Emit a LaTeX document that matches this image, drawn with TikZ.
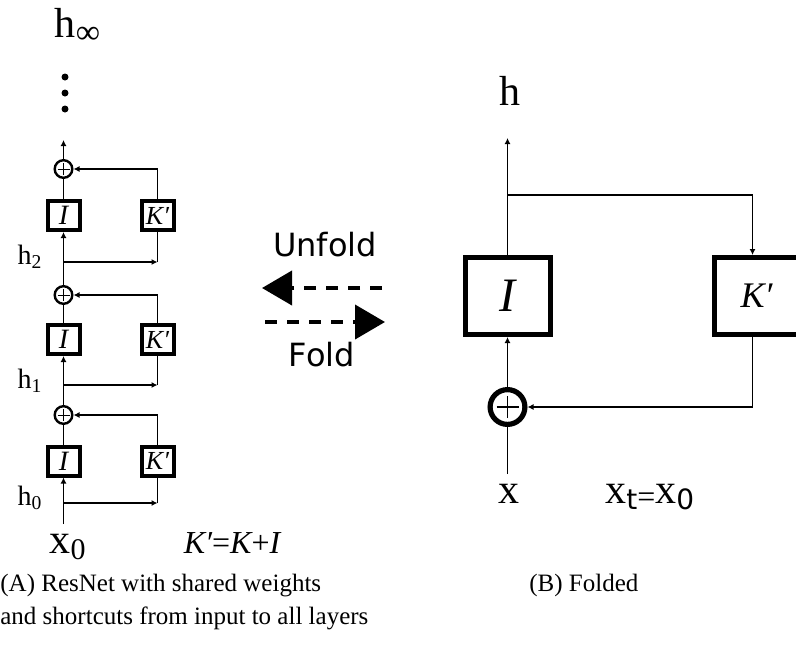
\documentclass[tikz,border=0pt]{standalone}
\usepackage{fontspec}
\setmainfont{Liberation Serif}
\newfontfamily\dejavu{DejaVu Sans}
\usetikzlibrary{arrows.meta}
\newcommand\sizept[1]{\fontsize{#1}{#1}\selectfont}

\begin{document}
\begin{tikzpicture}[x=0.5pt, y=-0.5pt,
    every node/.style={inner sep=0pt},
    smallbox/.style={draw, line width=2pt, minimum width=16pt, minimum height=14.5pt, font=\sizept{14}\itshape},
    bigbox/.style={draw, line width=2.5pt, minimum width=42.5pt, minimum height=38.5pt},
    smallsum/.style={draw, circle, line width=1.2pt, minimum size=8.8pt,
      path picture={\draw[line width=0.5pt]
        ([xshift=-3pt]path picture bounding box.center) -- ([xshift=3pt]path picture bounding box.center)
        ([yshift=-3pt]path picture bounding box.center) -- ([yshift=3pt]path picture bounding box.center);}},
    bigsum/.style={draw, circle, line width=2.6pt, minimum size=17.4pt,
      path picture={\draw[line width=0.8pt]
        ([xshift=-5.5pt]path picture bounding box.center) -- ([xshift=5.5pt]path picture bounding box.center)
        ([yshift=-5.5pt]path picture bounding box.center) -- ([yshift=5.5pt]path picture bounding box.center);}},
    main/.style={line width=0.9pt},
    side/.style={line width=0.6pt},
    rline/.style={line width=0.7pt},
    tip/.style={-{Latex[length=3pt,width=3pt]}},
    fat/.style={line width=2pt, dash pattern=on 6pt off 5pt, -{Triangle[length=15pt,width=17pt]}},
    lbl/.style={anchor=base, font=\sizept{14}},
    big/.style={anchor=base, font=\sizept{21}}]

  \clip (0,0) rectangle (796,649);

  % (A) unrolled net
  \node[anchor=base, font=\sizept{21}] (hinf) at (78,37) {h\textsubscript{\sizept{17}∞}};
  \fill (65,77) circle (3.5);
  \fill (65,93) circle (3.5);
  \fill (65,109) circle (3.5);
  \coordinate (top) at (63.5,140);

  % block 1
  \node[smallsum] (s1) at (63.5,169) {};
  \node[smallbox] (i1) at (63.5,215.5) {I};
  \node[smallbox, font=\sizept{13}\itshape] (k1) at (157.5,215.5) {K′};
  \coordinate (b1) at (63.5,262);
  \coordinate (c1) at (157.5,262);
  \node[lbl] (h2) at (30,264) {h\textsubscript{2}};

  % block 2
  \node[smallsum] (s2) at (63.5,295) {};
  \node[smallbox] (i2) at (63.5,339.5) {I};
  \node[smallbox, font=\sizept{13}\itshape] (k2) at (157.5,339.5) {K′};
  \coordinate (b2) at (63.5,385);
  \coordinate (c2) at (157.5,385);
  \node[lbl] (h1) at (30,388) {h\textsubscript{1}};

  % block 3
  \node[smallsum] (s3) at (63.5,415) {};
  \node[smallbox] (i3) at (63.5,461) {I};
  \node[smallbox, font=\sizept{13}\itshape] (k3) at (157.5,461) {K′};
  \coordinate (b3) at (63.5,503);
  \coordinate (c3) at (157.5,503);
  \node[lbl] (h0) at (30,505) {h\textsubscript{0}};
  \coordinate (xin) at (63.5,524);

  \draw[main,tip] (s1) -- (top);
  \draw[main] (i1) -- (s1);
  \draw[main,tip] (s2) -- (i1);
  \draw[main] (i2) -- (s2);
  \draw[main,tip] (s3) -- (i2);
  \draw[main] (i3) -- (s3);
  \draw[main,tip] (xin) -- (i3);

  \draw[side,tip] (b1) -- (c1);
  \draw[side] (c1) -- (k1);
  \draw[side,tip] (k1) |- (s1);
  \draw[side,tip] (b2) -- (c2);
  \draw[side] (c2) -- (k2);
  \draw[side,tip] (k2) |- (s2);
  \draw[side,tip] (b3) -- (c3);
  \draw[side] (c3) -- (k3);
  \draw[side,tip] (k3) |- (s3);

  \node[big] (x0) at (68,553) {x\textsubscript{\sizept{15}0}};
  \node[anchor=base, font=\sizept{16}\itshape] (keq) at (232,553) {K′\upshape{}=\itshape{}K\upshape{}+\itshape{}I};

  % unfold / fold
  \node[font=\dejavu\sizept{16}] (unf) at (325,245) {Unfold};
  \node[font=\dejavu\sizept{16}] (fld) at (322,355) {Fold};
  \coordinate (ua) at (382,288);
  \coordinate (ub) at (262,288);
  \coordinate (fa) at (265,322);
  \coordinate (fb) at (385,322);
  \draw[fat] (ua) -- (ub);
  \draw[fat] (fa) -- (fb);

  % (B) folded net
  \node[bigbox, font=\sizept{24}\itshape] (bi) at (507.5,296) {I};
  \node[bigbox, font=\sizept{18}\itshape] (bk) at (756.5,296) {K′};
  \node[bigsum] (bs) at (507.5,407) {};
  \node[anchor=base, font=\sizept{21}] (hout) at (510,105) {h};
  \coordinate (hend) at (507.5,138);
  \coordinate (rb) at (507.5,195);
  \coordinate (kin) at (752.5,195);
  \coordinate (xb) at (507.5,474);

  \draw[rline,tip] (bi) -- (hend);
  \draw[rline] (rb) -- (kin);
  \draw[rline,tip] (kin) -- (kin |- bk.north);
  \draw[rline,tip] (bs) -- (bi);
  \draw[rline,tip] ([xshift=-2pt]bk.south) |- (bs);
  \draw[rline] (xb) -- (bs);

  \node[big] (xr) at (509,503) {x};
  \node[anchor=base west, font=\sizept{21}] (xeq) at (605,503)
    {x\raisebox{-3pt}{\dejavu\sizept{14}t}\raisebox{-2pt}{\sizept{16}=}x\raisebox{-3pt}{\dejavu\sizept{14}0}};

  % captions
  \node[anchor=base west, font=\sizept{12.5}] (capa) at (0,591) {(A) ResNet with shared weights};
  \node[anchor=base west, font=\sizept{12.5}] (capa2) at (0,624) {and shortcuts from input to all layers};
  \node[anchor=base west, font=\sizept{12.5}] (capb) at (529,591) {(B) Folded};
\end{tikzpicture}
\end{document}
